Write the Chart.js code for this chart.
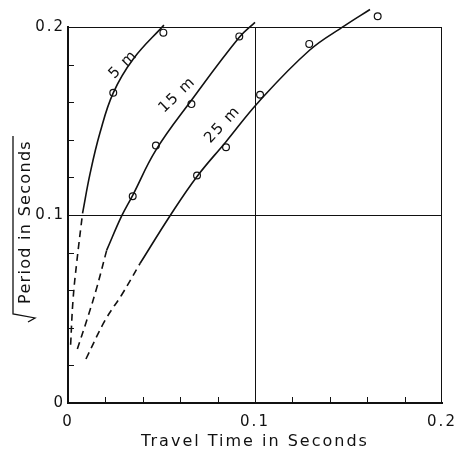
<!DOCTYPE html>
<html lang="en">
<head>
  <meta charset="UTF-8">
  <title>Period vs Travel Time</title>
  <script src="https://cdn.jsdelivr.net/npm/chart.js"></script>
  <style>
    html, body { margin: 0; padding: 0; background: #fff; }
    #wrap { width: 454px; height: 453px; }
  </style>
</head>
<body>
  <div id="wrap"><canvas id="chart" width="454" height="453"></canvas></div>

  <script>
    // measured points (travel time s, sqrt period s)
    const obs5 = [[0.0242, 0.165], [0.0510, 0.197]];
    const obs15 = [[0.0346, 0.110], [0.0470, 0.137], [0.0660, 0.159], [0.0916, 0.195]];
    const obs25 = [[0.0690, 0.121], [0.0845, 0.136], [0.1027, 0.164], [0.1290, 0.191], [0.1656, 0.2057]];

    // fitted curves as drawn
    const curve5 = [[0.0078, 0.101], [0.0118, 0.122], [0.0171, 0.1437], [0.0242, 0.165], [0.0349, 0.183], [0.0513, 0.201]];
    const curve15 = [[0.0207, 0.0813], [0.0287, 0.0995], [0.0346, 0.1105], [0.0470, 0.1345], [0.0660, 0.1610], [0.0916, 0.1945], [0.1000, 0.2025]];
    const curve25 = [[0.0385, 0.0742], [0.0545, 0.0995], [0.0690, 0.1205], [0.0845, 0.1390], [0.1018, 0.1600], [0.1290, 0.1875], [0.1480, 0.2007], [0.1615, 0.2093]];

    // extrapolated (dashed) parts
    const dash5 = [[0.0014, 0.031], [0.0027, 0.055], [0.0047, 0.075], [0.0078, 0.101]];
    const dash15 = [[0.0050, 0.0287], [0.0100, 0.0439], [0.0150, 0.060], [0.0207, 0.0813]];
    const dash25 = [[0.0096, 0.0234], [0.0198, 0.0439], [0.0290, 0.058], [0.0385, 0.0742]];

    // curve labels: text, x, y, angle (deg)
    const curveLabels = [['5 m', 0.0296, 0.180, -45], ['15 m', 0.0585, 0.1638, -44], ['25 m', 0.0827, 0.148, -47]];

    const xTickLabels = { '0': '0', '0.1': '0.1', '0.2': '0.2' };
    const yTickLabels = { '0': '0', '0.1': '0.1', '0.2': '0.2' };

    const toXY = arr => arr.map(p => ({ x: p[0], y: p[1] }));
    const near = (v, t) => Math.abs(v - t) < 1e-6;

    function tickLabel(map, v) {
      for (const k in map) if (near(v, parseFloat(k))) return map[k];
      return '';
    }

    function lineSet(data, dashed) {
      return {
        type: 'scatter', data: toXY(data), showLine: true,
        borderColor: '#111', borderWidth: 1.6, pointRadius: 0,
        borderDash: dashed ? [7, 5] : [], tension: 0.4,
        clip: false
      };
    }

    function pointSet(data) {
      return {
        type: 'scatter', data: toXY(data), showLine: false,
        pointRadius: 3.4, pointBorderWidth: 1.2, pointBorderColor: '#111',
        pointBackgroundColor: '#fff', clip: false
      };
    }

    const framePlugin = {
      id: 'frame',
      beforeDraw(chart) {
        chart.ctx.letterSpacing = '2px';
      },
      afterDraw(chart) {
        const { ctx, chartArea: a, scales: { x, y } } = chart;
        ctx.save();
        ctx.strokeStyle = '#111';
        // thin top and right border
        ctx.lineWidth = 1;
        ctx.beginPath();
        ctx.moveTo(a.left, a.top + 0.5); ctx.lineTo(a.right, a.top + 0.5);
        ctx.moveTo(a.right - 0.5, a.top); ctx.lineTo(a.right - 0.5, a.bottom);
        ctx.stroke();
        // inward ticks every 0.02
        ctx.beginPath();
        for (let i = 1; i < 10; i++) {
          const v = i * 0.02;
          const px = Math.round(x.getPixelForValue(v)) + 0.5;
          const py = Math.round(y.getPixelForValue(v)) + 0.5;
          ctx.moveTo(px, a.bottom); ctx.lineTo(px, a.bottom - 6);
          ctx.moveTo(a.left, py); ctx.lineTo(a.left + 6, py);
        }
        ctx.stroke();

        // observations above the top of the axis are skipped by Chart.js
        ctx.lineWidth = 1.2;
        ctx.fillStyle = '#fff';
        [obs5, obs15, obs25].flat().filter(p => p[1] > y.max).forEach(p => {
          ctx.beginPath();
          ctx.arc(x.getPixelForValue(p[0]), y.getPixelForValue(p[1]), 3.4, 0, Math.PI * 2);
          ctx.fill(); ctx.stroke();
        });

        // labels along curves
        ctx.fillStyle = '#111';
        ctx.font = '15px "DejaVu Sans"';
        ctx.letterSpacing = '1.5px';
        ctx.textAlign = 'center';
        ctx.textBaseline = 'middle';
        curveLabels.forEach(([t, vx, vy, ang]) => {
          ctx.save();
          ctx.translate(x.getPixelForValue(vx), y.getPixelForValue(vy));
          ctx.rotate(ang * Math.PI / 180);
          ctx.fillText(t, 0, 0);
          ctx.restore();
        });

        // y axis title with radical sign and overline
        const title = 'Period in Seconds';
        ctx.font = '16px "DejaVu Sans"';
        ctx.letterSpacing = '1.3px';
        const w = ctx.measureText(title).width;
        const cx = 25, cy = 228;
        ctx.save();
        ctx.translate(cx, cy);
        ctx.rotate(-Math.PI / 2);
        ctx.textAlign = 'left';
        ctx.fillText(title, -w / 2 + 6, 1);
        // radical
        ctx.lineWidth = 1.3;
        ctx.beginPath();
        const x0 = -w / 2 - 8;
        ctx.moveTo(x0 - 4, 3);
        ctx.lineTo(x0, 10);
        ctx.lineTo(x0 + 4, -12);
        ctx.lineTo(w / 2 + 10, -12);
        ctx.stroke();
        ctx.restore();
        ctx.restore();
        ctx.letterSpacing = '0px';
      }
    };

    new Chart(document.getElementById('chart'), {
      type: 'scatter',
      data: {
        datasets: [
          lineSet(curve5, false), lineSet(curve15, false), lineSet(curve25, false),
          lineSet(dash5, true), lineSet(dash15, true), lineSet(dash25, true),
          pointSet(obs5), pointSet(obs15), pointSet(obs25)
        ]
      },
      options: {
        responsive: false,
        animation: false,
        events: [],
        layout: { padding: { top: 27, right: 0, left: 0, bottom: 0 } },
        plugins: { legend: { display: false }, tooltip: { enabled: false } },
        scales: {
          x: {
            type: 'linear', min: 0, max: 0.2,
            afterFit: s => { s.height = 50; s.paddingLeft = 0; s.paddingRight = 12; },
            border: { color: '#111', width: 2 },
            grid: {
              drawTicks: false,
              color: c => near(c.tick.value, 0.1) ? '#111' : 'rgba(0,0,0,0)',
              lineWidth: 1
            },
            ticks: {
              stepSize: 0.02, padding: 10, color: '#111', maxRotation: 0, autoSkip: false,
              font: { family: 'DejaVu Sans', size: 15 },
              callback: v => tickLabel(xTickLabels, v)
            },
            title: {
              display: true, text: 'Travel Time in Seconds', color: '#111',
              font: { family: 'DejaVu Sans', size: 16 }, padding: { top: 0, bottom: 2 }
            }
          },
          y: {
            type: 'linear', min: 0, max: 0.2,
            afterFit: s => { s.width = 68; },
            border: { color: '#111', width: 2 },
            grid: {
              drawTicks: false,
              color: c => near(c.tick.value, 0.1) ? '#111' : 'rgba(0,0,0,0)',
              lineWidth: 1
            },
            ticks: {
              stepSize: 0.02, padding: 3, color: '#111', autoSkip: false,
              font: { family: 'DejaVu Sans', size: 15 },
              callback: v => tickLabel(yTickLabels, v)
            }
          }
        }
      },
      plugins: [framePlugin]
    });
  </script>
</body>
</html>
